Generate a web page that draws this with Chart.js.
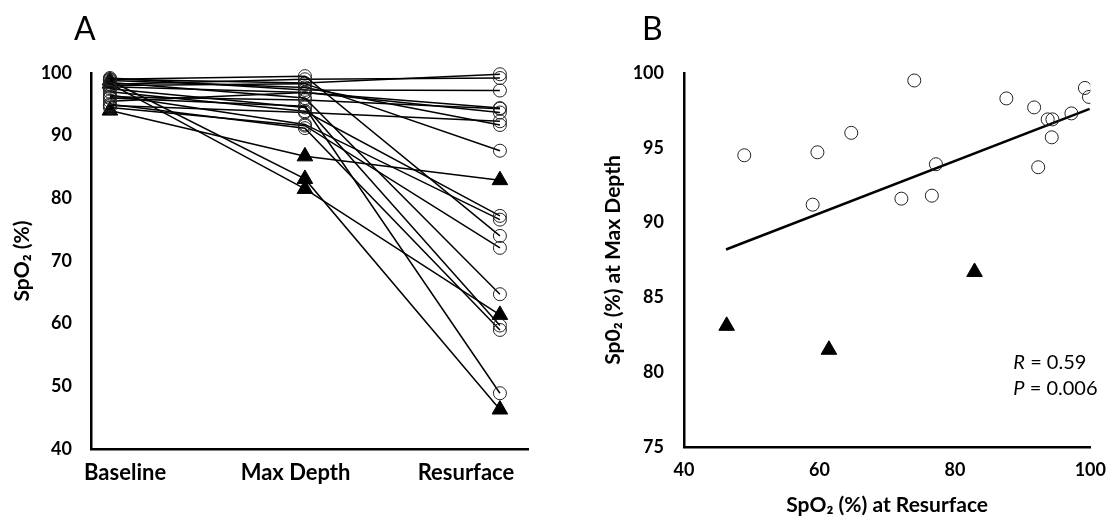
<!DOCTYPE html>
<html>
<head>
<meta charset="utf-8">
<script src="https://cdn.jsdelivr.net/npm/chart.js@4"></script>
<style>
  body { margin: 0; background: #fff; }
  #wrap { position: relative; width: 1118px; height: 519px; }
  canvas { position: absolute; top: 0; }
  #chartA { left: 0; }
  #chartB { left: 560px; }
  .panel { position: absolute; top: 8px; font: 32px Lato, sans-serif; color: #000; }
</style>
</head>
<body>
<div id="wrap">
  <canvas id="chartA" width="560" height="519"></canvas>
  <canvas id="chartB" width="558" height="519"></canvas>
  <div class="panel" style="left:74px">A</div>
  <div class="panel" style="left:642px">B</div>
</div>
<script>
// stages on the x axis of panel A
const stageLabels = ['Baseline', 'Max Depth', 'Resurface'];

// one entry per diver, SpO2 (%)
const baseline  = [97.5, 99.0, 98.5, 96.0, 95.0, 97.0, 94.5, 96.5, 98.0, 98.8, 95.5, 97.8, 96.2, 94.8, 99.2, 98.2, 99.0, 98.8, 98.3, 94.0];
const maxDepth  = [94.5, 99.5, 96.0, 94.7, 91.2, 93.9, 91.6, 91.8, 98.3, 97.7, 96.9, 96.9, 95.7, 93.7, 97.3, 99.0, 98.4, 83.1, 81.5, 86.7];
const resurface = [48.9, 74.0, 64.7, 59.7, 59.0, 77.2, 72.1, 76.6, 87.6, 91.7, 93.7, 94.4, 94.3, 92.3, 97.2, 99.2, 99.8, 46.3, 61.4, 82.9];
const markerShape = ['circle', 'circle', 'circle', 'circle', 'circle', 'circle', 'circle', 'circle', 'circle', 'circle',
                     'circle', 'circle', 'circle', 'circle', 'circle', 'circle', 'circle', 'triangle', 'triangle', 'triangle'];

// regression line of panel B (end points)
const fitResurface = [46.2, 99.9];
const fitMaxDepth  = [88.2, 97.6];
const statsText = [['R', ' = 0.59'], ['P', ' = 0.006']];

const FONT = 'Lato, "Open Sans", sans-serif';
const tickFont = { family: FONT, size: 18, weight: 'bold' };
const catFont = { family: FONT, size: 22, weight: 'bold' };
const titleFont = { family: FONT, size: 21, weight: 'bold' };
const noGrid = { display: false, drawTicks: false };
const axisLine = { color: '#000', width: 2.5 };

function markerStyle(shape) {
    const tri = shape === 'triangle';
    return {
        pointStyle: shape,
        pointRadius: tri ? 9 : 6.5,
        pointBackgroundColor: tri ? '#000' : 'rgba(0,0,0,0)',
        pointBorderColor: tri ? '#000' : '#222',
        pointBorderWidth: 1
    };
}

// Panel A: each diver as a line across the three stages (triangles drawn last)
const order = baseline.map((_, i) => i).sort((a, b) => (markerShape[a] === 'triangle') - (markerShape[b] === 'triangle'));
const datasetsA = order.map(i => Object.assign({
    data: [baseline[i], maxDepth[i], resurface[i]].map((v, k) => ({ x: k, y: v })),
    borderColor: '#000',
    borderWidth: 1.5,
    clip: false
}, markerStyle(markerShape[i])));

const stageTicks = s => { s.ticks = stageLabels.map((_, k) => ({ value: k })); };

new Chart(document.getElementById('chartA'), {
    type: 'line',
    data: { datasets: datasetsA },
    options: {
        responsive: false,
        animation: false,
        devicePixelRatio: 1,
        layout: { padding: { left: 0, right: 32, top: 73, bottom: 0 } },
        plugins: { legend: { display: false }, tooltip: { enabled: false } },
        scales: {
            x: {
                type: 'linear',
                min: -0.097,
                max: 2.144,
                afterBuildTicks: stageTicks,
                ticks: { display: false },
                grid: noGrid,
                border: axisLine,
                afterFit: s => { s.height = 0; }
            },
            // category labels sit on their own, slightly narrower, axis
            stage: {
                type: 'linear',
                position: 'bottom',
                min: -0.2,
                max: 2.364,
                afterBuildTicks: stageTicks,
                ticks: { callback: v => stageLabels[v], font: catFont, color: '#000', padding: 11, maxRotation: 0 },
                grid: noGrid,
                border: { display: false },
                afterFit: s => { s.height = 70; }
            },
            y: {
                min: 40,
                max: 100,
                ticks: { stepSize: 10, font: tickFont, color: '#000', padding: 19 },
                grid: noGrid,
                border: axisLine,
                title: { display: true, text: 'SpO₂ (%)', font: titleFont, color: '#000', padding: { top: 10, bottom: 0 } },
                afterFit: s => { s.width = 91; }
            }
        }
    }
});

// Panel B: scatter of max depth vs resurface
const circlePts = [], trianglePts = [];
resurface.forEach((r, i) => {
    (markerShape[i] === 'triangle' ? trianglePts : circlePts).push({ x: r, y: maxDepth[i] });
});

const statsPlugin = {
    id: 'stats',
    afterDraw(chart) {
        const ctx = chart.ctx;
        const area = chart.chartArea;
        ctx.save();
        ctx.fillStyle = '#000';
        ctx.textBaseline = 'alphabetic';
        statsText.forEach((parts, k) => {
            const x = area.right - 77;
            const y = area.bottom - 78 + k * 26;
            ctx.font = 'italic 20px ' + FONT;
            ctx.fillText(parts[0], x, y);
            const w = ctx.measureText(parts[0]).width;
            ctx.font = '20px ' + FONT;
            ctx.fillText(parts[1], x + w, y);
        });
        ctx.restore();
    }
};

new Chart(document.getElementById('chartB'), {
    type: 'scatter',
    data: {
        datasets: [
            Object.assign({ data: circlePts }, markerStyle('circle')),
            Object.assign({ data: trianglePts }, markerStyle('triangle')),
            {
                type: 'line',
                data: fitResurface.map((x, k) => ({ x: x, y: fitMaxDepth[k] })),
                borderColor: '#000',
                borderWidth: 2.5,
                pointRadius: 0
            }
        ]
    },
    options: {
        responsive: false,
        animation: false,
        devicePixelRatio: 1,
        layout: { padding: { left: 0, right: 21, top: 73, bottom: 0 } },
        plugins: { legend: { display: false }, tooltip: { enabled: false } },
        scales: {
            x: {
                type: 'linear',
                min: 40,
                max: 100,
                ticks: { stepSize: 20, font: tickFont, color: '#000', padding: 12, maxRotation: 0 },
                grid: noGrid,
                border: axisLine,
                title: { display: true, text: 'SpO₂ (%) at Resurface', font: titleFont, color: '#000', padding: { top: 0, bottom: 1 } },
                afterFit: s => { s.height = 72; }
            },
            y: {
                min: 75,
                max: 100,
                ticks: { stepSize: 5, font: tickFont, color: '#000', padding: 20 },
                grid: noGrid,
                border: axisLine,
                title: { display: true, text: 'Sp0₂ (%) at Max Depth', font: titleFont, color: '#000', padding: { top: 41, bottom: 0 } },
                afterFit: s => { s.width = 124; }
            }
        }
    },
    plugins: [statsPlugin]
});
</script>
</body>
</html>
